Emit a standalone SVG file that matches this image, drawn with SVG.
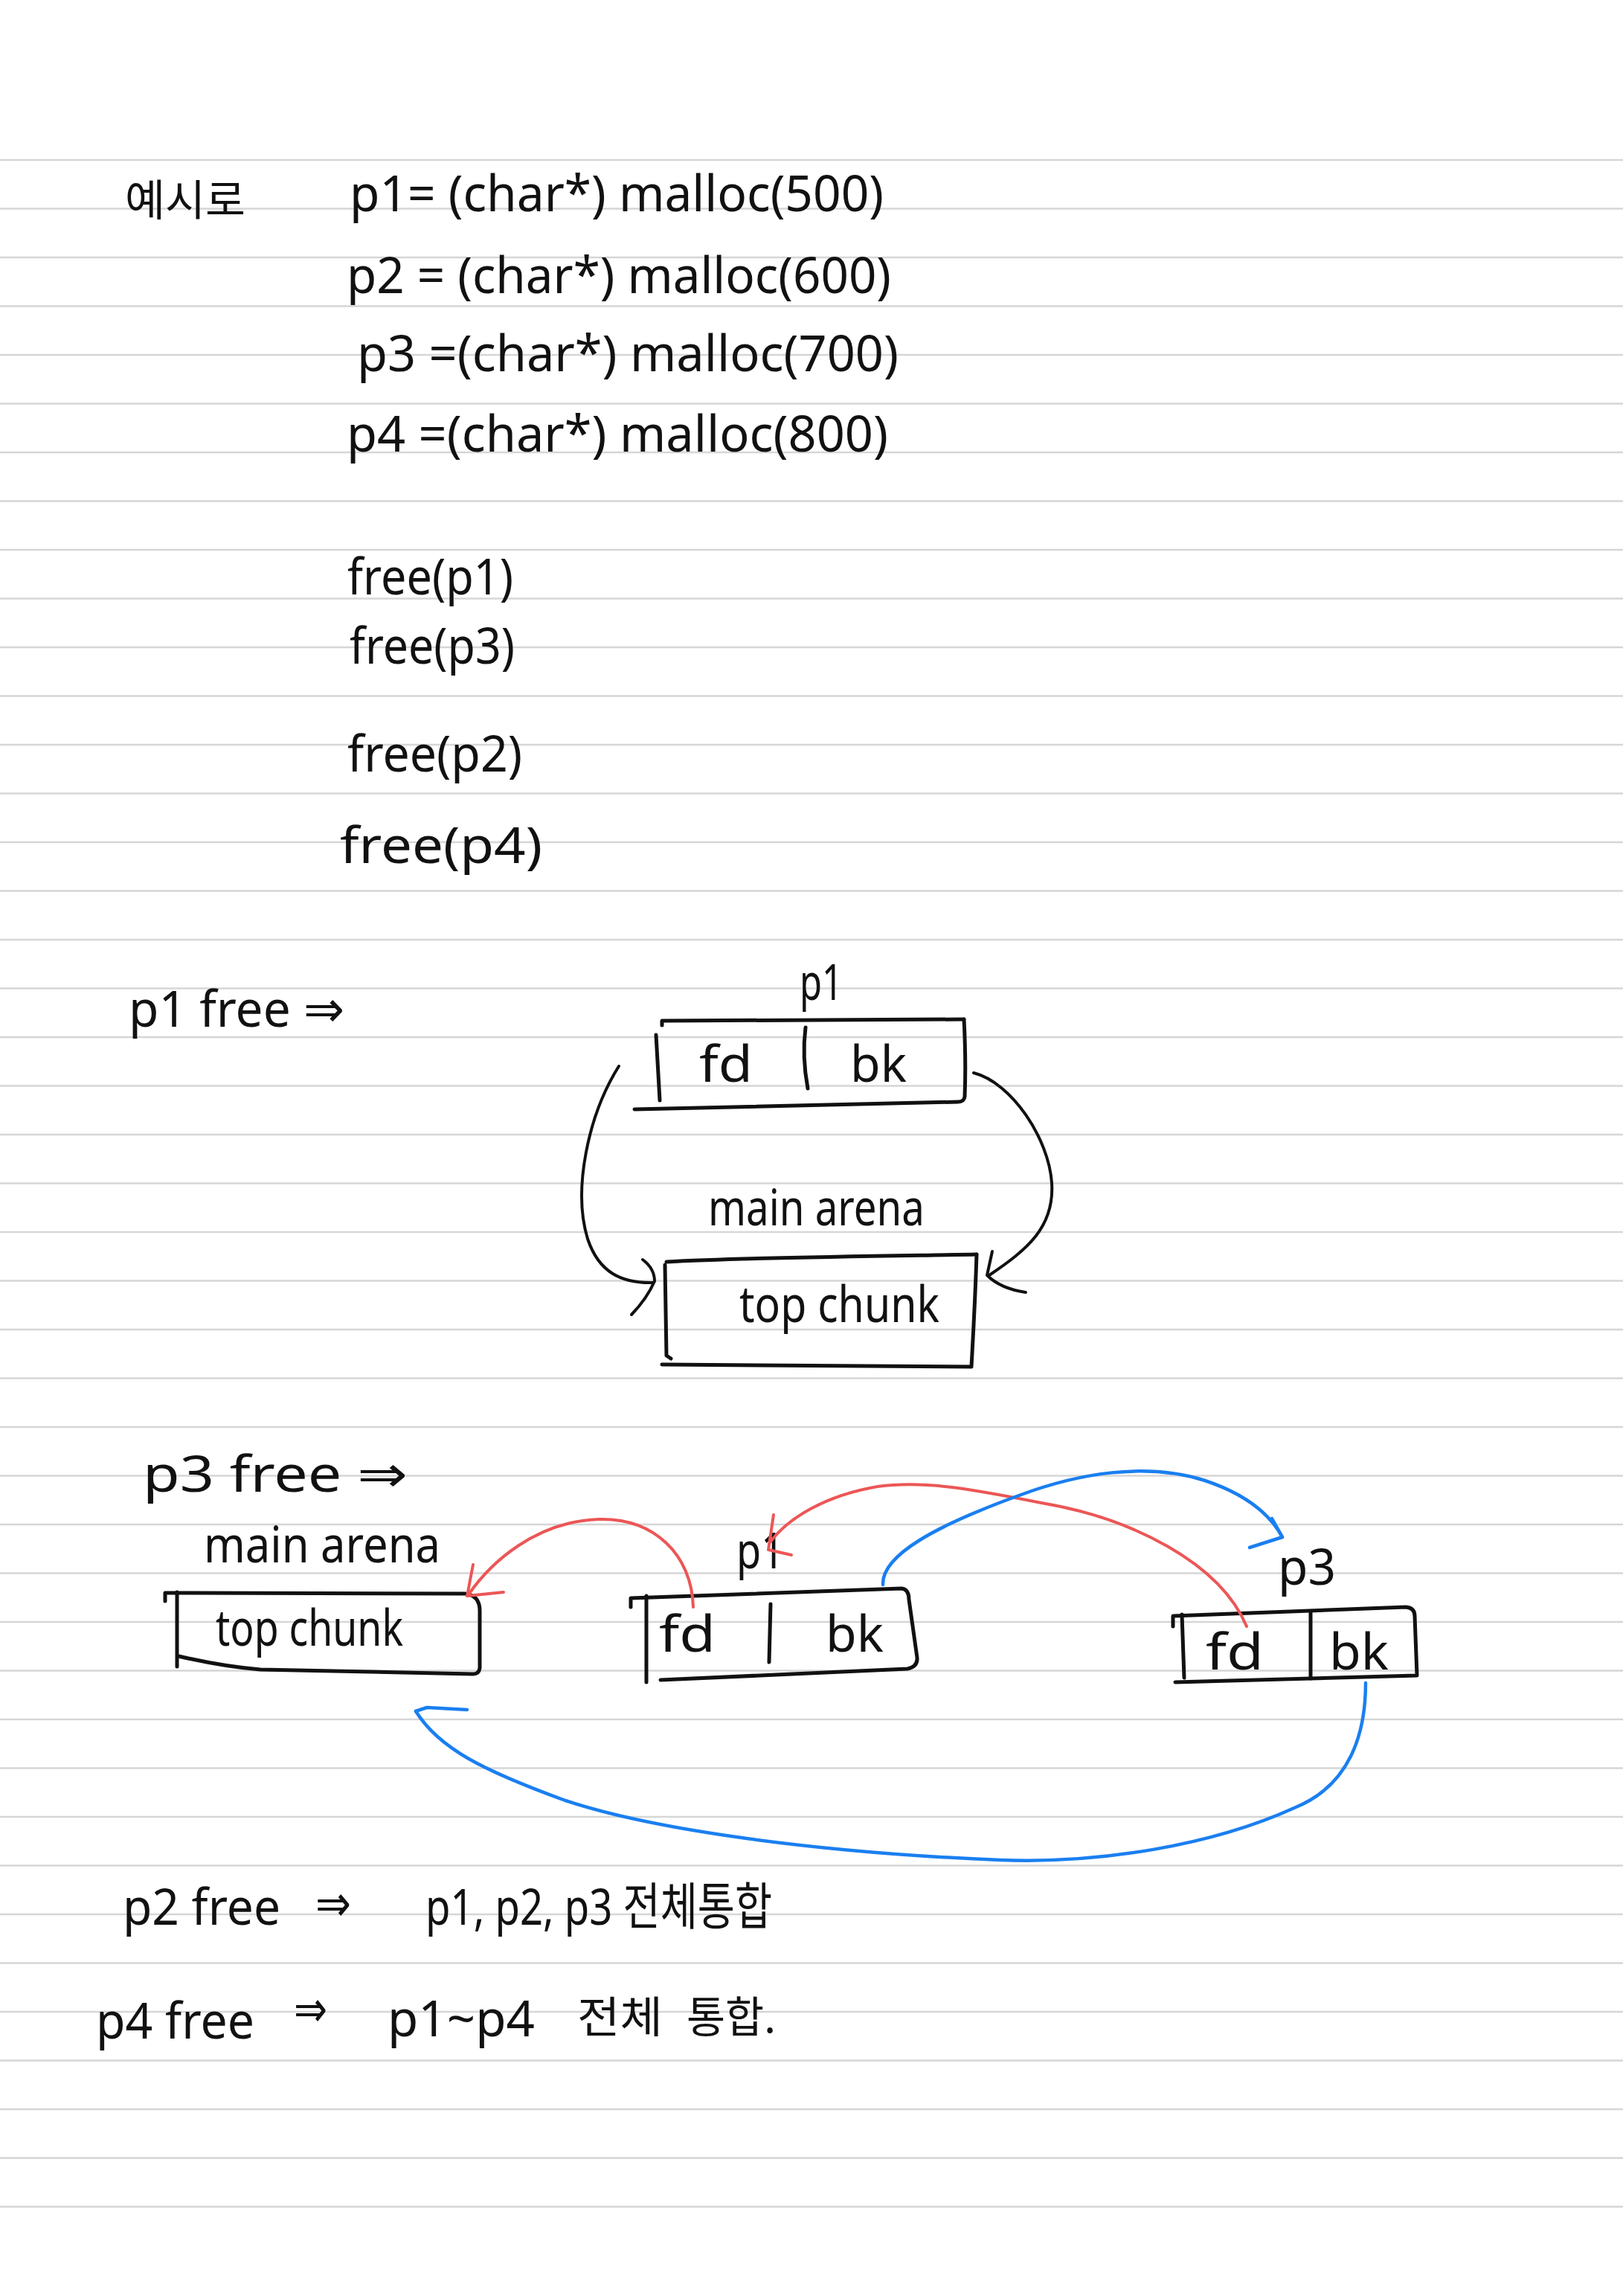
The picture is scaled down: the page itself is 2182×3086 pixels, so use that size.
<svg xmlns="http://www.w3.org/2000/svg" width="2182" height="3086" viewBox="0 0 2182 3086">
<style>
.rule{stroke:#d6d6d6;stroke-width:2.5}
.t{font-family:"Noto Sans","DejaVu Sans","Noto Sans CJK KR",sans-serif;fill:#111;font-size:68px}
.k{font-family:"Noto Sans CJK KR","Noto Sans",sans-serif;fill:#111;font-size:58px}
.bx{fill:none;stroke:#111;stroke-width:5;stroke-linecap:round;stroke-linejoin:round}
.red{fill:none;stroke:#ec5656;stroke-width:4;stroke-linecap:round;stroke-linejoin:round}
.blue{fill:none;stroke:#1a7ff0;stroke-width:4.5;stroke-linecap:round;stroke-linejoin:round}
.blk{fill:none;stroke:#111;stroke-width:4;stroke-linecap:round;stroke-linejoin:round}
</style>
<rect width="2182" height="3086" fill="#ffffff"/>
<g id="ruled-lines">
<line class="rule" x1="0" x2="2182" y1="215" y2="215"/>
<line class="rule" x1="0" x2="2182" y1="280.5" y2="280.5"/>
<line class="rule" x1="0" x2="2182" y1="346" y2="346"/>
<line class="rule" x1="0" x2="2182" y1="411.5" y2="411.5"/>
<line class="rule" x1="0" x2="2182" y1="477" y2="477"/>
<line class="rule" x1="0" x2="2182" y1="542.5" y2="542.5"/>
<line class="rule" x1="0" x2="2182" y1="608" y2="608"/>
<line class="rule" x1="0" x2="2182" y1="673.5" y2="673.5"/>
<line class="rule" x1="0" x2="2182" y1="739" y2="739"/>
<line class="rule" x1="0" x2="2182" y1="804.5" y2="804.5"/>
<line class="rule" x1="0" x2="2182" y1="870" y2="870"/>
<line class="rule" x1="0" x2="2182" y1="935.5" y2="935.5"/>
<line class="rule" x1="0" x2="2182" y1="1001" y2="1001"/>
<line class="rule" x1="0" x2="2182" y1="1066.5" y2="1066.5"/>
<line class="rule" x1="0" x2="2182" y1="1132" y2="1132"/>
<line class="rule" x1="0" x2="2182" y1="1197.5" y2="1197.5"/>
<line class="rule" x1="0" x2="2182" y1="1263" y2="1263"/>
<line class="rule" x1="0" x2="2182" y1="1328.5" y2="1328.5"/>
<line class="rule" x1="0" x2="2182" y1="1394" y2="1394"/>
<line class="rule" x1="0" x2="2182" y1="1459.5" y2="1459.5"/>
<line class="rule" x1="0" x2="2182" y1="1525" y2="1525"/>
<line class="rule" x1="0" x2="2182" y1="1590.5" y2="1590.5"/>
<line class="rule" x1="0" x2="2182" y1="1656" y2="1656"/>
<line class="rule" x1="0" x2="2182" y1="1721.5" y2="1721.5"/>
<line class="rule" x1="0" x2="2182" y1="1787" y2="1787"/>
<line class="rule" x1="0" x2="2182" y1="1852.5" y2="1852.5"/>
<line class="rule" x1="0" x2="2182" y1="1918" y2="1918"/>
<line class="rule" x1="0" x2="2182" y1="1983.5" y2="1983.5"/>
<line class="rule" x1="0" x2="2182" y1="2049" y2="2049"/>
<line class="rule" x1="0" x2="2182" y1="2114.5" y2="2114.5"/>
<line class="rule" x1="0" x2="2182" y1="2180" y2="2180"/>
<line class="rule" x1="0" x2="2182" y1="2245.5" y2="2245.5"/>
<line class="rule" x1="0" x2="2182" y1="2311" y2="2311"/>
<line class="rule" x1="0" x2="2182" y1="2376.5" y2="2376.5"/>
<line class="rule" x1="0" x2="2182" y1="2442" y2="2442"/>
<line class="rule" x1="0" x2="2182" y1="2507.5" y2="2507.5"/>
<line class="rule" x1="0" x2="2182" y1="2573" y2="2573"/>
<line class="rule" x1="0" x2="2182" y1="2638.5" y2="2638.5"/>
<line class="rule" x1="0" x2="2182" y1="2704" y2="2704"/>
<line class="rule" x1="0" x2="2182" y1="2769.5" y2="2769.5"/>
<line class="rule" x1="0" x2="2182" y1="2835" y2="2835"/>
<line class="rule" x1="0" x2="2182" y1="2900.5" y2="2900.5"/>
<line class="rule" x1="0" x2="2182" y1="2966" y2="2966"/>
</g>

<g id="code">
<text class="k" x="168" y="290" textLength="162" lengthAdjust="spacingAndGlyphs">예시로</text>
<text class="t" x="470" y="284" font-size="72" textLength="718" lengthAdjust="spacingAndGlyphs">p1= (char*) malloc(500)</text>
<text class="t" x="466" y="394" font-size="72" textLength="732" lengthAdjust="spacingAndGlyphs">p2 = (char*) malloc(600)</text>
<text class="t" x="480" y="499" font-size="72" textLength="728" lengthAdjust="spacingAndGlyphs">p3 =(char*) malloc(700)</text>
<text class="t" x="466" y="607" font-size="72" textLength="728" lengthAdjust="spacingAndGlyphs">p4 =(char*) malloc(800)</text>
<text class="t" x="467" y="799" font-size="72" textLength="223" lengthAdjust="spacingAndGlyphs">free(p1)</text>
<text class="t" x="470" y="892" font-size="72" textLength="222" lengthAdjust="spacingAndGlyphs">free(p3)</text>
<text class="t" x="467" y="1037" font-size="72" textLength="235" lengthAdjust="spacingAndGlyphs">free(p2)</text>
<text class="t" x="457" y="1160" font-size="72" textLength="272" lengthAdjust="spacingAndGlyphs">free(p4)</text>
</g>

<g id="step-p1-free">
<text class="t" x="173" y="1380" font-size="72" textLength="290" lengthAdjust="spacingAndGlyphs">p1 free ⇒</text>
<g id="s1-p1">
<text class="t" x="1075" y="1344" font-size="66" textLength="58" lengthAdjust="spacingAndGlyphs">p1</text>
<path class="bx" d="M890,1378 L890,1372 L1296,1370"/>
<path class="bx" d="M1296,1370 C1298,1410 1298,1450 1297,1474 Q1296,1481 1288,1481 L853,1491"/>
<path class="bx" d="M882,1391 L887,1479"/>
<path class="bx" d="M1083,1381 Q1078,1420 1086,1463"/>
<text class="t" x="940" y="1454" textLength="72" lengthAdjust="spacingAndGlyphs">fd</text>
<text class="t" x="1143" y="1454" textLength="76" lengthAdjust="spacingAndGlyphs">bk</text>
</g>
<text class="t" x="952" y="1647" font-size="62" textLength="291" lengthAdjust="spacingAndGlyphs">main arena</text>
<g id="s1-topchunk">
<path class="bx" d="M896,1696 C1000,1690 1200,1688 1313,1686"/>
<path class="bx" d="M894,1700 L896,1822 L902,1826"/>
<path class="bx" d="M1313,1686 C1311,1750 1308,1800 1306,1837"/>
<path class="bx" d="M890,1834 L1305,1837"/>
<text class="t" x="994" y="1777" font-size="70" textLength="269" lengthAdjust="spacingAndGlyphs">top chunk</text>
</g>
</g>

<g id="step-p3-free">
<text class="t" x="192" y="2005" font-size="76" textLength="356" lengthAdjust="spacingAndGlyphs">p3 free ⇒</text>
<text class="t" x="274" y="2100" font-size="66" textLength="318" lengthAdjust="spacingAndGlyphs">main arena</text>
<g id="s2-topchunk">
<path class="bx" d="M222,2152 L222,2141 L625,2142 Q645,2144 645,2165 L645,2242 Q644,2250 636,2250 L350,2244 Q300,2240 240,2226"/>
<path class="bx" d="M238,2140 L238,2240"/>
<text class="t" x="290" y="2212" font-size="70" textLength="252" lengthAdjust="spacingAndGlyphs">top chunk</text>
</g>
<g id="s2-p1">
<text class="t" x="990" y="2108" font-size="64" textLength="64" lengthAdjust="spacingAndGlyphs">p1</text>
<path class="bx" d="M848,2160 L848,2148 L1212,2135 Q1222,2136 1222,2150 L1233,2228 Q1234,2240 1220,2243 L888,2258"/>
<path class="bx" d="M869,2145 L869,2261"/>
<path class="bx" d="M1036,2156 L1034,2234"/>
<text class="t" x="886" y="2220" textLength="76" lengthAdjust="spacingAndGlyphs">fd</text>
<text class="t" x="1110" y="2220" textLength="78" lengthAdjust="spacingAndGlyphs">bk</text>
</g>
<g id="s2-p3">
<text class="t" x="1718" y="2130" font-size="64" textLength="78" lengthAdjust="spacingAndGlyphs">p3</text>
<path class="bx" d="M1577,2186 L1577,2172 L1890,2160 Q1902,2161 1902,2172 L1905,2252 L1580,2261"/>
<path class="bx" d="M1589,2170 L1592,2255"/>
<path class="bx" d="M1762,2167 L1762,2256"/>
<text class="t" x="1621" y="2244" textLength="78" lengthAdjust="spacingAndGlyphs">fd</text>
<text class="t" x="1787" y="2244" textLength="80" lengthAdjust="spacingAndGlyphs">bk</text>
</g>
</g>

<g id="connectors">
<path class="blk" d="M832,1433 C790,1500 770,1600 790,1665 C805,1710 835,1725 878,1724"/>
<path class="blk" d="M864,1693 Q880,1705 880,1722 Q870,1745 849,1767"/>
<path class="blk" d="M1309,1442 C1360,1455 1410,1530 1414,1590 C1418,1650 1380,1680 1330,1714"/>
<path class="blk" d="M1334,1682 L1327,1714 Q1345,1732 1379,1737"/>

<path class="red" d="M932,2160 C930,2090 880,2040 805,2042 C720,2045 660,2100 630,2143"/>
<path class="red" d="M636,2103 L628,2145 L677,2140"/>
<path class="red" d="M1676,2186 C1640,2100 1520,2040 1400,2020 C1300,2000 1240,1990 1180,1998 C1110,2010 1060,2040 1036,2072"/>
<path class="red" d="M1040,2036 L1033,2083 L1064,2090"/>

<path class="blue" d="M1187,2130 C1185,2090 1260,2050 1370,2010 C1450,1980 1540,1965 1620,1990 C1680,2010 1710,2040 1724,2066"/>
<path class="blue" d="M1710,2041 L1724,2066 L1680,2080"/>
<path class="blue" d="M1836,2262 C1836,2330 1815,2400 1740,2430 C1630,2480 1480,2505 1345,2500 C1100,2490 880,2460 760,2420 C650,2380 590,2350 559,2300"/>
<path class="blue" d="M559,2300 L574,2295 L628,2298"/>
</g>

<g id="summary">
<text class="t" x="165" y="2587" font-size="70" textLength="212" lengthAdjust="spacingAndGlyphs">p2 free</text>
<text class="t" x="424" y="2582" textLength="48" lengthAdjust="spacingAndGlyphs">⇒</text>
<text class="t" x="572" y="2587" font-size="68" textLength="466" lengthAdjust="spacingAndGlyphs">p1, p2, p3 전체통합</text>
<text class="t" x="129" y="2740" font-size="70" textLength="213" lengthAdjust="spacingAndGlyphs">p4 free</text>
<text class="t" x="395" y="2724" textLength="45" lengthAdjust="spacingAndGlyphs">⇒</text>
<text class="t" x="521" y="2737" font-size="68" textLength="198" lengthAdjust="spacingAndGlyphs">p1~p4</text>
<text class="k" x="776" y="2732" font-size="60" textLength="115" lengthAdjust="spacingAndGlyphs">전체</text>
<text class="k" x="923" y="2732" font-size="60" textLength="120" lengthAdjust="spacingAndGlyphs">통합.</text>
</g>
</svg>
